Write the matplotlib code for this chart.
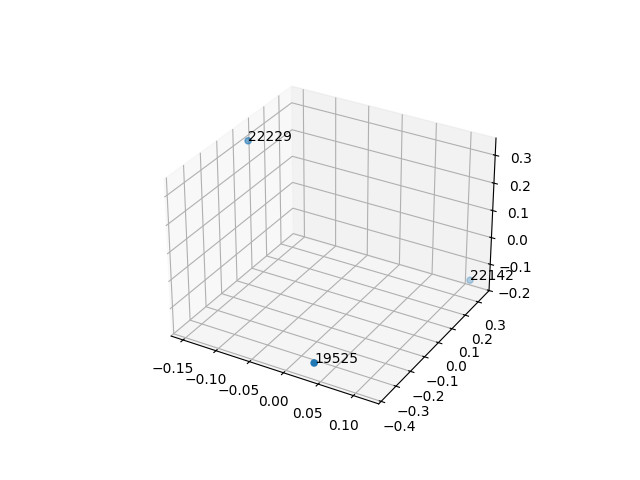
import matplotlib
matplotlib.use("Agg")
import matplotlib.pyplot as plt

# values
labels = ["22229", "19525", "22142"]
xs = [-0.149, 0.033, 0.116]
ys = [0.015, -0.365, 0.335]
zs = [0.325, -0.165, -0.15]

fig = plt.figure(figsize=(6.4, 4.8), dpi=100)
ax = fig.add_subplot(projection="3d")
ax.scatter(xs, ys, zs)
for x, y, z, label in zip(xs, ys, zs, labels):
    ax.text(x, y, z, label)

fig.savefig("out.png", dpi=100)
